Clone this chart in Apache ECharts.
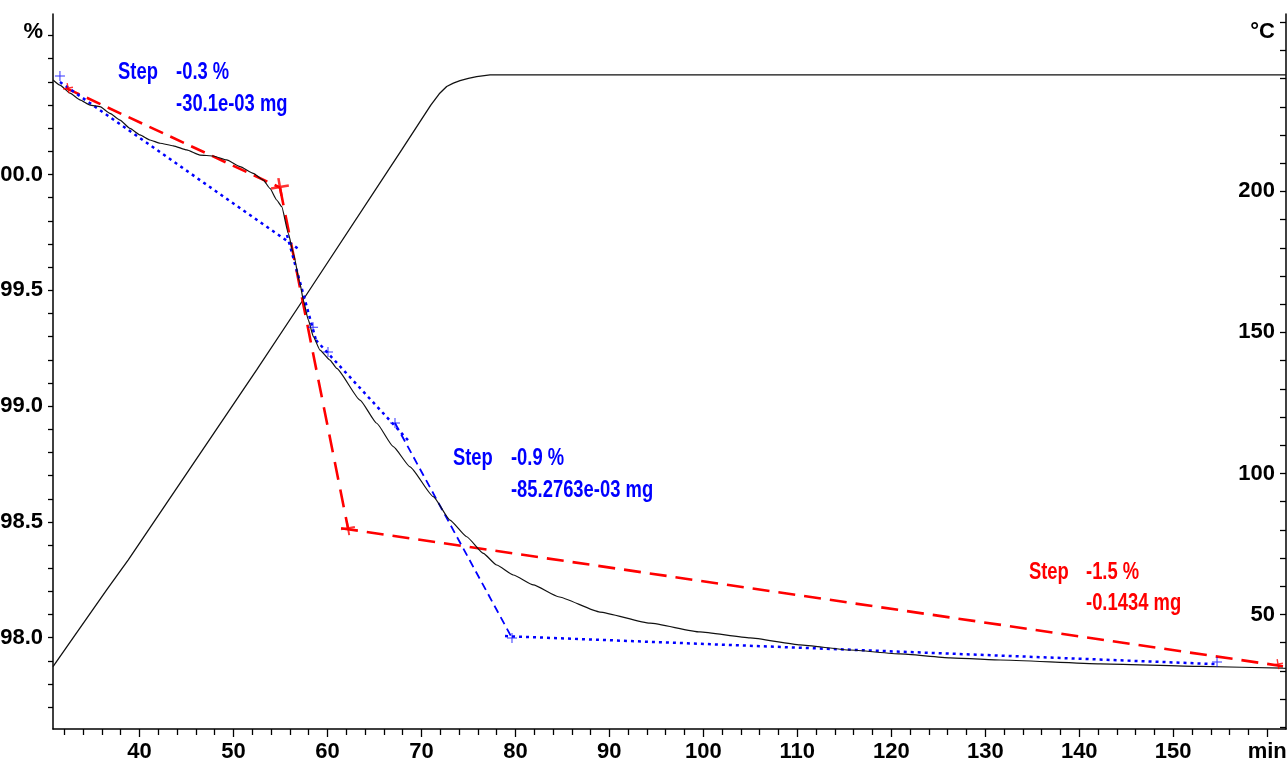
<!DOCTYPE html>
<html><head><meta charset="utf-8">
<script src="https://cdn.jsdelivr.net/npm/echarts@6/dist/echarts.min.js"></script>
<style>html,body{margin:0;padding:0;background:#fff}#c{width:1288px;height:771px}</style>
</head><body><div id="c"></div>
<script>
// ---- data (time in min, mass in %, temperature in °C) ----
const tgTime = [30.8,31.54,32.61,33.67,34.74,35.80,36.86,37.93,38.99,40.06,41.12,42.19,43.60,45.03,46.44,47.86,49.28,50.70,52.11,53.18,53.89,54.60,55.14,55.84,56.37,57.08,57.43,57.97,58.50,59.21,60.27,60.99,63.47,65.24,67.01,68.79,71.27,73.04,74.82,76.59,78.01,79.78,81.91,84.57,89.00,94.32,99.64,104.97,110.29,115.61,120.93,126.25,131.57,142.21,152.85,161.68,162];
const tgMass = [100.408,100.386,100.351,100.322,100.300,100.293,100.264,100.235,100.199,100.171,100.149,100.135,100.124,100.106,100.084,100.080,100.063,100.034,100.005,99.976,99.940,99.890,99.861,99.746,99.660,99.530,99.458,99.372,99.300,99.242,99.199,99.163,99.026,98.926,98.825,98.738,98.609,98.508,98.436,98.364,98.314,98.271,98.228,98.177,98.111,98.063,98.025,97.999,97.969,97.947,97.930,97.913,97.904,97.887,97.876,97.869,97.868];
const tempTime = [30.8,33.14,36.51,38.81,52.47,57.4,67.9,71.0,71.9,72.69,73.4,74.11,75.0,75.88,77.3,162];
const tempValue = [31.5,42.7,58.7,69.4,136.7,161.5,214.7,230.6,234.6,237.2,238.4,239.3,240.1,240.7,241.3,241.3];

const redTangent1Time = [32.18,54.95],  redTangent1Mass = [100.373,99.944];
const redTangent2Time = [54.95,62.19],  redTangent2Mass = [99.944,98.473];
const redTangent3Time = [61.45,161.68], redTangent3Mass = [98.473,97.877];

const blueTangentATime = [31.54,57.08], blueTangentAMass = [100.399,99.674];
const blueTangentBTime = [55.70,58.78], blueTangentBMass = [99.739,99.285];
const blueTangentCTime = [58.78,68.57], blueTangentCMass = [99.285,98.853];
const blueTangentDTime = [67.19,79.64], blueTangentDMass = [98.927,97.999];
const blueTangentETime = [78.90,154.66], blueTangentEMass = [98.007,97.886];

const redMarkTime = [32.40,54.95,62.19,161.15];
const redMarkMass = [100.373,99.946,98.473,97.886];
const blueMarkTime = [31.54,58.47,60.06,67.19,79.64,154.66];
const blueMarkMass = [100.425,99.341,99.234,98.927,97.999,97.895];

const blueNoteText = ['Step','-0.3 %','-30.1e-03 mg','Step','-0.9 %','-85.2763e-03 mg'];
const blueNoteTime = [37.72,43.89,43.89,73.36,79.53,79.53];
const blueNoteMass = [100.443,100.443,100.304,98.776,98.776,98.638];
const redNoteText = ['Step','-1.5 %','-0.1434 mg'];
const redNoteTime = [134.65,140.72,140.72];
const redNoteMass = [98.284,98.284,98.150];

const xMajorTicks = [40,50,60,70,80,90,100,110,120,130,140,150,160];
const xMinorTicks = [32,34,36,38,42,44,46,48,52,54,56,58,62,64,66,68,72,74,76,78,82,84,86,88,92,94,96,98,102,104,106,108,112,114,116,118,122,124,126,128,132,134,136,138,142,144,146,148,152,154,156,158];
const yTicks = [97.7,97.8,97.9,98.0,98.1,98.2,98.3,98.4,98.5,98.6,98.7,98.8,98.9,99.0,99.1,99.2,99.3,99.4,99.5,99.6,99.7,99.8,99.9,100.0,100.1,100.2,100.3,100.4,100.5,100.6];
const yLabels = [98.0,98.5,99.0,99.5,100.0,100.615];
const tTicks = [10,20,30,40,50,60,70,80,90,100,110,120,130,140,150,160,170,180,190,200,210,220,230,240,250,260];
const tLabels = [50,100,150,200,256.5];

// ---- chart ----
const FONT = "'Liberation Sans Narrow','Arial Narrow','Liberation Sans',Arial,sans-serif";
const BLUE = '#0000ff', RED = '#ff0000';
const zip = (a,b) => a.map((v,i)=>[v,b[i]]);
const labelStyle = {color:'#000', fontSize:22, fontWeight:'bold', fontFamily:FONT};
const PLUS = 'path://M4.5,0H5.5V4.5H10V5.5H5.5V10H4.5V5.5H0V4.5H4.5Z';
const PLUS_B = 'path://M4.3,0H5.7V4.3H10V5.7H5.7V10H4.3V5.7H0V4.3H4.3Z';

function tangent(t, m, color, width, dash){
  return {type:'line', xAxisIndex:0, yAxisIndex:0, data:zip(t,m), showSymbol:false, silent:true,
    lineStyle:{color, width, type:dash}, z:3};
}

const chart = echarts.init(document.getElementById('c'), null, {renderer:'canvas'});
chart.setOption({
  animation:false,
  backgroundColor:'#fff',
  grid:{left:53, right:2, top:14, bottom:42, containLabel:false, outerBoundsMode:'none'},
  xAxis:[
    {type:'value', min:30.8, max:162, position:'bottom',
     axisLine:{show:true, lineStyle:{color:'#000', width:1.5}},
     axisTick:{show:true, customValues:xMajorTicks, length:8, lineStyle:{color:'#000', width:1.3}},
     axisLabel:Object.assign({customValues:xMajorTicks, margin:12, formatter:v=> v===160?'min':String(v)}, labelStyle),
     splitLine:{show:false}},
    {type:'value', min:30.8, max:162, position:'bottom',
     axisLine:{show:false},
     axisTick:{show:true, customValues:xMinorTicks, length:6, lineStyle:{color:'#000', width:1.3}},
     axisLabel:{show:false}, splitLine:{show:false}}
  ],
  yAxis:[
    {type:'value', min:97.606, max:100.693, position:'left',
     axisLine:{show:true, lineStyle:{color:'#000', width:1.5}},
     axisTick:{show:true, customValues:yTicks, length:5, lineStyle:{color:'#000', width:1.3}},
     axisLabel:Object.assign({customValues:yLabels, margin:10, formatter:v=> v>100.55?'%':v.toFixed(1)}, labelStyle),
     splitLine:{show:false}},
    {type:'value', min:9.4, max:262.9, position:'right',
     axisLine:{show:true, lineStyle:{color:'#000', width:1.5}},
     axisTick:{show:true, inside:true, customValues:tTicks, length:6, lineStyle:{color:'#000', width:1.3}},
     axisLabel:Object.assign({inside:true, customValues:tLabels, margin:11, formatter:v=> v>250?'°C':String(v)}, labelStyle),
     splitLine:{show:false}}
  ],
  series:[
    {type:'line', xAxisIndex:0, yAxisIndex:1, data:zip(tempTime,tempValue), showSymbol:false, silent:true,
     lineStyle:{color:'#111', width:1.3}, z:2},
    tangent(redTangent1Time, redTangent1Mass, RED, 2.6, [15,8]),
    tangent(redTangent2Time, redTangent2Mass, RED, 2.6, [18,10]),
    tangent(redTangent3Time, redTangent3Mass, RED, 2.6, [17,9]),
    tangent(blueTangentATime, blueTangentAMass, BLUE, 2.5, [3,4]),
    tangent(blueTangentBTime, blueTangentBMass, BLUE, 2.5, [3,4]),
    tangent(blueTangentCTime, blueTangentCMass, BLUE, 2.5, [3,4]),
    tangent(blueTangentDTime, blueTangentDMass, BLUE, 1.8, [8,5]),
    tangent(blueTangentETime, blueTangentEMass, BLUE, 2.5, [3,4]),
    {type:'line', xAxisIndex:0, yAxisIndex:0, data:zip(tgTime,tgMass), showSymbol:false, silent:true,
     smooth:0.15, smoothMonotone:'x', lineStyle:{color:'#111', width:1.2}, z:4},
    {type:'scatter', xAxisIndex:0, yAxisIndex:0, data:zip(redMarkTime,redMarkMass), silent:true, z:5,
     symbol:PLUS_B, symbolSize:(v,p)=>[10,18,14,10][p.dataIndex], symbolRotate:10, itemStyle:{color:RED}},
    {type:'scatter', xAxisIndex:0, yAxisIndex:0, data:zip(blueMarkTime,blueMarkMass), silent:true, z:5,
     symbol:PLUS, symbolSize:10, itemStyle:{color:BLUE}}
  ]
});

// step annotations: text anchored at data coordinates, drawn condensed
function noteElements(text, t, m, color){
  return text.map((s,i)=>{
    const p = chart.convertToPixel({xAxisIndex:0, yAxisIndex:0}, [t[i], m[i]]);
    return {type:'text', x:p[0], y:p[1], scaleX:0.8, scaleY:1.08, z:10, silent:true,
      style:{text:s, fill:color, fontSize:23, fontWeight:'bold', fontFamily:FONT, align:'left', verticalAlign:'middle'}};
  });
}
chart.setOption({graphic:{elements:[
  ...noteElements(blueNoteText, blueNoteTime, blueNoteMass, BLUE),
  ...noteElements(redNoteText, redNoteTime, redNoteMass, RED)
]}});
</script></body></html>
